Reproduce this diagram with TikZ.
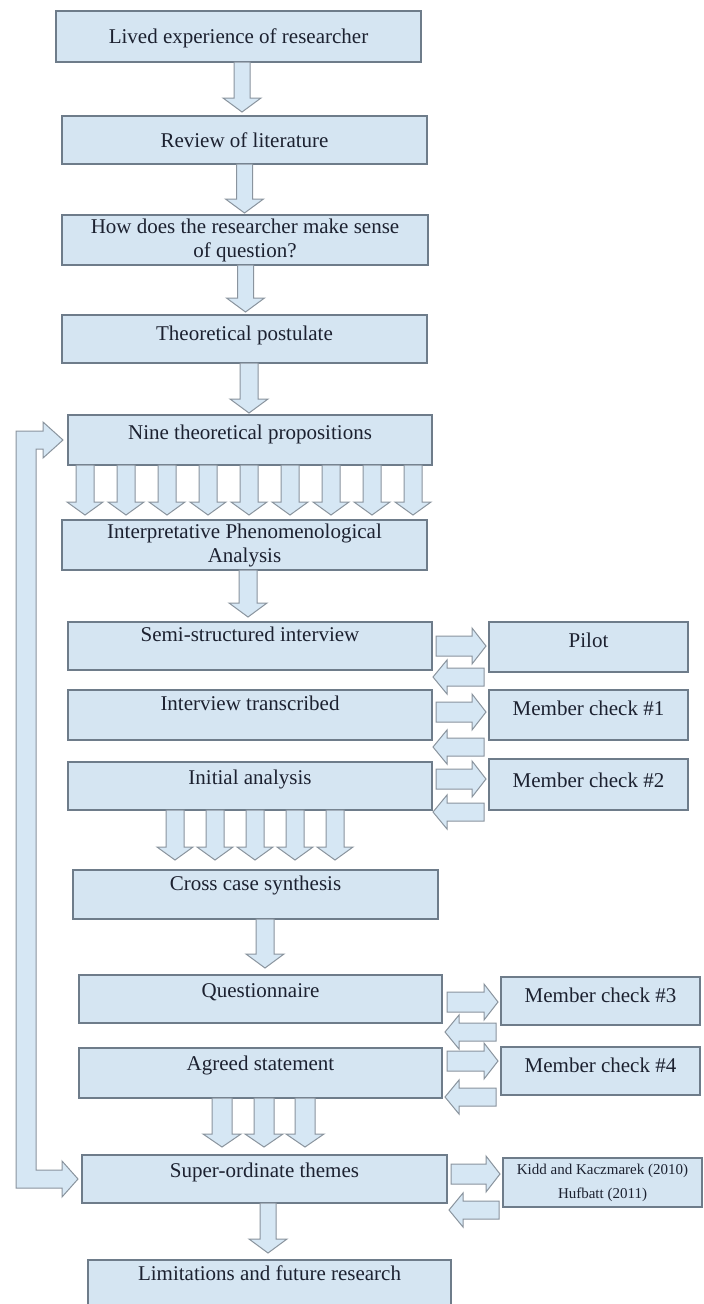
\documentclass[tikz,border=0pt]{standalone}
\usepackage{fontspec}
\setmainfont{Liberation Serif}
\usetikzlibrary{calc}
\definecolor{boxfill}{HTML}{D5E5F2}
\definecolor{boxline}{HTML}{6E7C8A}
\definecolor{arrfill}{HTML}{D6E7F4}
\definecolor{arrline}{HTML}{8A949E}
\definecolor{txt}{HTML}{1C2130}
\tikzset{
  box/.style={draw=boxline, fill=boxfill, line width=1.2pt, inner sep=0pt, outer sep=0pt, rectangle},
  lbl/.style={text=txt, font=\fontsize{21}{24}\selectfont, align=center, inner sep=0pt, text height=14pt, text depth=4pt, yshift=-2pt},
  twolbl/.style={text=txt, font=\fontsize{21}{24}\selectfont, align=center, inner sep=0pt},
  smalllbl/.style={text=txt, font=\fontsize{15}{24}\selectfont, align=center, inner sep=0pt},
  barrow/.style={draw=arrline, fill=arrfill, line width=1pt, line join=miter},
}
\newcommand\mkbox[5]{\node[box, minimum width={#4-#2}, minimum height={#5-#3}] (#1) at ({(#2+#4)/2},{(#3+#5)/2}) {};}
% down block arrow: start, tip, shaft half width, head half width, head length
\newcommand\dblock[5]{\draw[barrow] let \p1=(#1), \p2=(#2) in
  (\x1-#3pt,\y1) -- (\x1-#3pt,\y2+#5pt) -- (\x1-#4pt,\y2+#5pt) -- (\x1,\y2) -- (\x1+#4pt,\y2+#5pt) -- (\x1+#3pt,\y2+#5pt) -- (\x1+#3pt,\y1) -- cycle;}
% right block arrow: start (gives y), tip (gives x)
\newcommand\rblock[2]{\draw[barrow] let \p1=(#1), \p2=(#2) in
  (\x1,\y1+10pt) -- (\x2-14pt,\y1+10pt) -- (\x2-14pt,\y1+18pt) -- (\x2,\y1) -- (\x2-14pt,\y1-18pt) -- (\x2-14pt,\y1-10pt) -- (\x1,\y1-10pt) -- cycle;}
% left block arrow: start (gives x), tip (gives x and y)
\newcommand\lblock[2]{\draw[barrow] let \p1=(#1), \p2=(#2) in
  (\x1,\y2+9pt) -- (\x2+14pt,\y2+9pt) -- (\x2+14pt,\y2+17pt) -- (\x2,\y2) -- (\x2+14pt,\y2-17pt) -- (\x2+14pt,\y2-9pt) -- (\x1,\y2-9pt) -- cycle;}
\begin{document}
\begin{tikzpicture}[x=1pt,y=-1pt]
\useasboundingbox (0,0) rectangle (704,1304);
\fill[white] (0,0) rectangle (704,1304);
% boxes
\mkbox{b1}{56}{11}{421}{62}
\mkbox{b2}{62}{116}{427}{164}
\mkbox{b3}{62}{215}{428}{265}
\mkbox{b4}{62}{315}{427}{363}
\mkbox{b5}{68}{415}{432}{465}
\mkbox{b6}{62}{520}{427}{570}
\mkbox{b7}{68}{622}{432}{670}
\mkbox{pilot}{489}{622}{688}{672}
\mkbox{b8}{68}{690}{432}{740}
\mkbox{mc1}{489}{690}{688}{740}
\mkbox{b9}{68}{762}{432}{810}
\mkbox{mc2}{489}{759}{688}{810}
\mkbox{b10}{73}{870}{438}{919}
\mkbox{b11}{79}{975}{442}{1023}
\mkbox{mc3}{501}{977}{700}{1025}
\mkbox{b12}{79}{1048}{442}{1098}
\mkbox{mc4}{501}{1047}{700}{1095}
\mkbox{b13}{82}{1155}{447}{1203}
\mkbox{kidd}{503}{1158}{702}{1207}
\mkbox{b14}{88}{1260}{451}{1320}
% main vertical arrows
\dblock{$(b1.south)+(3.5,0)$}{$(b2.north)+(0,-4)$}{8}{19}{14}
\dblock{$(b2.south)+(0,0)$}{$(b3.north)+(0,-2)$}{8}{19}{14}
\dblock{$(b3.south)+(0.5,0)$}{$(b4.north)+(0,-3)$}{8}{19}{14}
\dblock{$(b4.south)+(4.5,0)$}{$(b5.north)+(0,-2)$}{9}{19}{14}
\foreach \dx in {17,58,...,345}{\dblock{$(b5.south west)+(\dx,0)$}{$(b6.north)+(0,-5)$}{9}{18}{13}}
\dblock{$(b6.south)+(3.5,0)$}{$(b7.north)+(0,-5)$}{9}{19}{14}
\foreach \dx in {107,147,...,267}{\dblock{$(b9.south west)+(\dx,0)$}{$(b10.north)+(0,-10)$}{9}{18}{13}}
\dblock{$(b10.south)+(9.5,0)$}{$(b11.north)+(0,-7)$}{9}{19}{14}
\foreach \dx in {143,185,226}{\dblock{$(b12.south west)+(\dx,0)$}{$(b13.north)+(0,-8)$}{10}{19}{13}}
\dblock{$(b13.south)+(3.5,0)$}{$(b14.north)+(0,-7)$}{8}{19}{14}
% side arrows
\rblock{$(b7.east)+(4,0)$}{$(pilot.west)+(-3,0)$}
\lblock{$(pilot.west)+(-5,0)$}{$(b7.south east)+(1,7)$}
\rblock{$(b8.east)+(4,-3)$}{$(mc1.west)+(-3,0)$}
\lblock{$(mc1.west)+(-5,0)$}{$(b8.south east)+(1,7)$}
\rblock{$(b9.east)+(4,-7)$}{$(mc2.west)+(-3,0)$}
\lblock{$(mc2.west)+(-5,0)$}{$(b9.south east)+(1,2)$}
\rblock{$(b11.east)+(5,3)$}{$(mc3.west)+(-3,0)$}
\lblock{$(mc3.west)+(-5,0)$}{$(b11.south east)+(3,9)$}
\rblock{$(b12.east)+(5,-12)$}{$(mc4.west)+(-3,0)$}
\lblock{$(mc4.west)+(-5,0)$}{$(b12.south east)+(3,-1)$}
\rblock{$(b13.east)+(4,-5)$}{$(kidd.west)+(-3,0)$}
\lblock{$(kidd.west)+(-4,0)$}{$(b13.south east)+(2,7)$}
% feedback loop arrow
\draw[barrow] let \p1=($(b5.west)+(-5,0)$), \p2=($(b13.west)+(-4,0)$) in
  (\x1,\y1) -- (\x1-20pt,\y1+18pt) -- (\x1-20pt,\y1+9pt) -- (16pt,\y1+9pt) -- (16pt,\y2-9pt)
  -- (\x2-16pt,\y2-9pt) -- (\x2-16pt,\y2-18pt) -- (\x2,\y2) -- (\x2-16pt,\y2+18pt) -- (\x2-16pt,\y2+9pt)
  -- (36pt,\y2+9pt) -- (36pt,\y1-9pt) -- (\x1-20pt,\y1-9pt) -- (\x1-20pt,\y1-18pt) -- cycle;
% labels
\node[lbl] (t1) at (b1.center) {Lived experience of researcher};
\node[lbl] (t2) at (b2.center) {Review of literature};
\node[twolbl] (t3) at (b3.center) {How does the researcher make sense\\of question?};
\node[lbl] (t4) at ($(b4.north)+(0,18)$) {Theoretical postulate};
\node[lbl] (t5) at ($(b5.north)+(0,17)$) {Nine theoretical propositions};
\node[twolbl] (t6) at (b6.center) {Interpretative Phenomenological\\Analysis};
\node[lbl] (t7) at ($(b7.north)+(0,12)$) {Semi-structured interview};
\node[lbl] (tp) at ($(pilot.north)+(0,18)$) {Pilot};
\node[lbl] (t8) at ($(b8.north)+(0,13)$) {Interview transcribed};
\node[lbl] (tm1) at ($(mc1.north)+(0,18)$) {Member check \#1};
\node[lbl] (t9) at ($(b9.north)+(0,15)$) {Initial analysis};
\node[lbl] (tm2) at ($(mc2.north)+(0,21)$) {Member check \#2};
\node[lbl] (t10) at ($(b10.north)+(0,13)$) {Cross case synthesis};
\node[lbl] (t11) at ($(b11.north)+(0,15)$) {Questionnaire};
\node[lbl] (tm3) at ($(mc3.north)+(0,18)$) {Member check \#3};
\node[lbl] (t12) at ($(b12.north)+(0,15)$) {Agreed statement};
\node[lbl] (tm4) at ($(mc4.north)+(0,18)$) {Member check \#4};
\node[lbl] (t13) at ($(b13.north)+(0,15)$) {Super-ordinate themes};
\node[smalllbl] (tk) at (kidd.center) {Kidd and Kaczmarek (2010)\\Hufbatt (2011)};
\node[lbl] (t14) at ($(b14.north)+(0,13)$) {Limitations and future research};
\end{tikzpicture}
\end{document}
